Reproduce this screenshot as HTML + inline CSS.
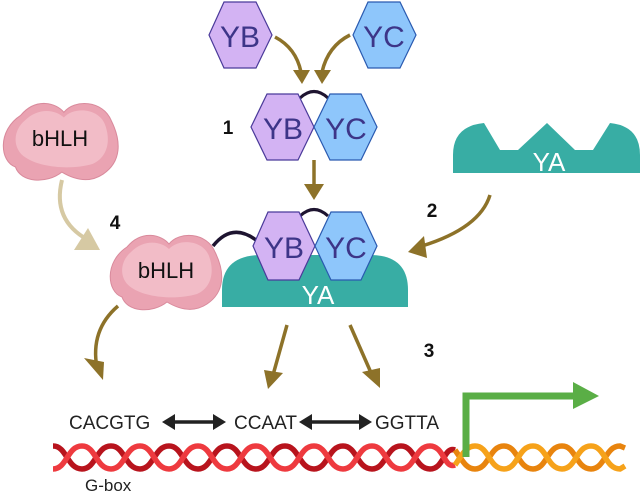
<!DOCTYPE html>
<html><head><meta charset="utf-8"><style>
html,body{margin:0;padding:0;background:#fff;}
svg{display:block;}
text{font-family:"Liberation Sans",sans-serif;}
</style></head><body>
<svg width="641" height="492" viewBox="0 0 641 492" xmlns="http://www.w3.org/2000/svg">
<defs>
<g id="blob">
<path d="M20,15 C35,-3 55,3 62,12 C72,-1 100,0 108,20 C118,40 118,60 100,72 C85,82 70,76 60,70 C45,82 20,80 15,65 C0,60 -3,30 20,15 Z" fill="#eaa3b2" stroke="#d98a9c" stroke-width="1"/>
<path d="M24,20 C38,6 55,10 62,17 C72,6 96,8 102,24 C108,40 104,56 90,62 C70,68 40,66 25,56 C12,48 12,30 24,20 Z" fill="#f2bcc7"/>
</g>
</defs>

<polygon points="209,35 224,2 256,2 272,35 256,68 224,68" fill="#d3b3f3" stroke="#4a3a9a" stroke-width="1.2"/>
<text x="240" y="47" font-size="30" fill="#3d3588" text-anchor="middle">YB</text>
<polygon points="353,35 368,2 400,2 416,35 400,68 368,68" fill="#8ec6fb" stroke="#2a5ab0" stroke-width="1.2"/>
<text x="384" y="47" font-size="30" fill="#3d3588" text-anchor="middle">YC</text>

<g fill="none" stroke="#8d7229" stroke-width="3.5">
<path d="M275,37 Q296,48 301,72"/>
<path d="M350,35 Q328,46 322,72"/>
<path d="M314,160 L314,186"/>
<path d="M490,195 Q480,228 422,246"/>
<path d="M118,306 Q90,330 97,368"/>
<path d="M287,325 L273,375"/>
<path d="M350,325 L372,375"/>
</g>
<path d="M62,180 Q52,220 88,240" fill="none" stroke="#d6c9a3" stroke-width="4"/>
<g fill="#8d7229">
<polygon points="293,70 310,70 302,84"/>
<polygon points="314,70 331,70 322,84"/>
<polygon points="304,184 324,184 314,200"/>
<polygon points="424,236 427,258 408,252"/>
<polygon points="84,358 104,362 103,380"/>
<polygon points="264,370 283,373 268,389"/>
<polygon points="362,372 380,368 380,388"/>
</g>
<polygon points="88,228 100,250 74,250" fill="#d6c9a3"/>

<path d="M300,98 Q314,85 328,98" fill="none" stroke="#1e1430" stroke-width="3"/>
<polygon points="251,127 267,94 298,94 314,127 298,160 267,160" fill="#d3b3f3" stroke="#4a3a9a" stroke-width="1.2"/>
<text x="283" y="139" font-size="30" fill="#3d3588" text-anchor="middle">YB</text>
<polygon points="314,127 330,94 361,94 377,127 361,160 330,160" fill="#8ec6fb" stroke="#2a5ab0" stroke-width="1.2"/>
<text x="346" y="139" font-size="30" fill="#3d3588" text-anchor="middle">YC</text>
<text x="228" y="134" font-size="19" font-weight="bold" fill="#111" text-anchor="middle">1</text>

<path d="M453,173 L453,155 Q453,126 484,123 L500,150 L518,150 L547,123 L575,150 L593,150 L610,123 Q640,126 640,155 L640,173 Z" fill="#38ada4"/>
<text x="549" y="171" font-size="26" fill="#fff" text-anchor="middle">YA</text>
<text x="432" y="217" font-size="19" font-weight="bold" fill="#111" text-anchor="middle">2</text>
<text x="429" y="357" font-size="19" font-weight="bold" fill="#111" text-anchor="middle">3</text>
<text x="115" y="229" font-size="19" font-weight="bold" fill="#111" text-anchor="middle">4</text>

<g transform="translate(0,100) scale(1.03,1.03)"><use href="#blob"/></g>
<text x="60" y="146" font-size="22" fill="#111" text-anchor="middle">bHLH</text>

<path d="M222,307 L222,290 Q222,255 262,255 L370,255 Q408,255 408,290 L408,307 Z" fill="#38ada4"/>
<text x="318" y="304" font-size="26" fill="#fff" text-anchor="middle">YA</text>

<path d="M213,246 Q232,222 256,240" fill="none" stroke="#1e1430" stroke-width="3.5"/>
<g transform="translate(107,232)"><use href="#blob"/></g>
<text x="166" y="278" font-size="22" fill="#111" text-anchor="middle">bHLH</text>

<path d="M300,216 Q314,203 328,216" fill="none" stroke="#1e1430" stroke-width="3"/>
<polygon points="253,246 268,212 299,212 315,246 299,280 268,280" fill="#d3b3f3" stroke="#4a3a9a" stroke-width="1.2"/>
<text x="284" y="258" font-size="30" fill="#3d3588" text-anchor="middle">YB</text>
<polygon points="315,246 331,212 361,212 377,246 361,280 331,280" fill="#8ec6fb" stroke="#2a5ab0" stroke-width="1.2"/>
<text x="346" y="258" font-size="30" fill="#3d3588" text-anchor="middle">YC</text>

<g font-size="19" fill="#222">
<text x="69" y="429">CACGTG</text>
<text x="234" y="429">CCAAT</text>
<text x="375" y="429">GGTTA</text>
</g>
<g fill="#222" stroke="#222" stroke-width="3.5">
<line x1="172" y1="422" x2="216" y2="422"/>
<line x1="309" y1="422" x2="362" y2="422"/>
</g>
<g fill="#222">
<polygon points="162,422 175,414 175,430"/>
<polygon points="226,422 213,414 213,430"/>
<polygon points="299,422 312,414 312,430"/>
<polygon points="372,422 359,414 359,430"/>
</g>

<g fill="none" stroke-width="5.5">
<path d="M53,446 C67,446 67,469 82,469 C96,469 96,446 111,446 C125,446 125,469 140,469 C154,469 154,446 169,446 C183,446 183,469 198,469 C212,469 212,446 227,446 C241,446 241,469 256,469 C270,469 270,446 285,446 C299,446 299,469 314,469 C328,469 328,446 343,446 C357,446 357,469 372,469 C386,469 386,446 401,446 C415,446 415,469 430,469 C444,469 444,446 455,450" stroke="#b8141d"/>
<path d="M53,469 C67,469 67,446 82,446 C96,446 96,469 111,469 C125,469 125,446 140,446 C154,446 154,469 169,469 C183,469 183,446 198,446 C212,446 212,469 227,469 C241,469 241,446 256,446 C270,446 270,469 285,469 C299,469 299,446 314,446 C328,446 328,469 343,469 C357,469 357,446 372,446 C386,446 386,469 401,469 C415,469 415,446 430,446 C444,446 444,469 455,465" stroke="#ee3a3f"/>
<path d="M455,450 C462,460 466,469 475,469 C489,469 489,446 504,446 C518,446 518,469 533,469 C547,469 547,446 562,446 C576,446 576,469 591,469 C605,469 605,446 620,446 L625,448" stroke="#e8840e"/>
<path d="M455,465 C462,455 466,446 475,446 C489,446 489,469 504,469 C518,469 518,446 533,446 C547,446 547,469 562,469 C576,469 576,446 591,446 C605,446 605,469 620,469 L625,466" stroke="#f6a21a"/>
</g>
<text x="85" y="491" font-size="17" fill="#222">G-box</text>

<path d="M466,457 L466,396 L578,396" fill="none" stroke="#5aae46" stroke-width="7"/>
<polygon points="573,382 599,396 573,409" fill="#5aae46"/>
</svg>
</body></html>
